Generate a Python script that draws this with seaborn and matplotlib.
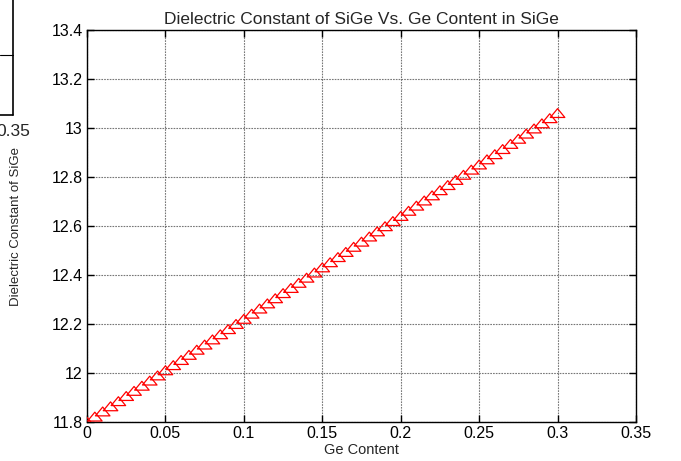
import matplotlib
matplotlib.use("Agg")
import matplotlib.pyplot as plt
from matplotlib.path import Path
import seaborn as sns
import pandas as pd

ge_content = [0.000, 0.005, 0.010, 0.015, 0.020, 0.025, 0.030, 0.035, 0.040, 0.045,
              0.050, 0.055, 0.060, 0.065, 0.070, 0.075, 0.080, 0.085, 0.090, 0.095,
              0.100, 0.105, 0.110, 0.115, 0.120, 0.125, 0.130, 0.135, 0.140, 0.145,
              0.150, 0.155, 0.160, 0.165, 0.170, 0.175, 0.180, 0.185, 0.190, 0.195,
              0.200, 0.205, 0.210, 0.215, 0.220, 0.225, 0.230, 0.235, 0.240, 0.245,
              0.250, 0.255, 0.260, 0.265, 0.270, 0.275, 0.280, 0.285, 0.290, 0.295,
              0.300]
dielectric = [11.800, 11.821, 11.842, 11.863, 11.884, 11.905, 11.926, 11.947, 11.968, 11.989,
              12.010, 12.031, 12.052, 12.073, 12.094, 12.115, 12.136, 12.157, 12.178, 12.199,
              12.220, 12.241, 12.262, 12.283, 12.304, 12.325, 12.346, 12.367, 12.388, 12.409,
              12.430, 12.451, 12.472, 12.493, 12.514, 12.535, 12.556, 12.577, 12.598, 12.619,
              12.640, 12.661, 12.682, 12.703, 12.724, 12.745, 12.766, 12.787, 12.808, 12.829,
              12.850, 12.871, 12.892, 12.913, 12.934, 12.955, 12.976, 12.997, 13.018, 13.039,
              13.060]
x_ticks = [0, 0.05, 0.1, 0.15, 0.2, 0.25, 0.3, 0.35]
x_ticklabels = ["0", "0.05", "0.1", "0.15", "0.2", "0.25", "0.3", "0.35"]
y_ticks = [11.8, 12, 12.2, 12.4, 12.6, 12.8, 13, 13.2, 13.4]
y_ticklabels = ["11.8", "12", "12.2", "12.4", "12.6", "12.8", "13", "13.2", "13.4"]

sns.set_style("white")
plt.rcParams['font.family'] = ['Liberation Sans', 'DejaVu Sans']

df = pd.DataFrame({"x": ge_content, "y": dielectric})

fig = plt.figure(figsize=(6.81, 4.61), dpi=100)
ax = fig.add_axes([87/681, 1 - 422/461, (636 - 87)/681, (422 - 30)/461])

tri = Path([(-0.7, -0.4), (0.7, -0.4), (0.0, 0.45), (-0.7, -0.4)],
           [Path.MOVETO, Path.LINETO, Path.LINETO, Path.CLOSEPOLY])
sns.scatterplot(data=df, x="x", y="y", ax=ax, marker=tri, s=110,
                facecolors="none", edgecolor="red", linewidth=0.9, zorder=3)

ax.set_xlim(0, 0.35)
ax.set_ylim(11.8, 13.4)
ax.set_xticks(x_ticks)
ax.set_xticklabels(x_ticklabels)
ax.set_yticks(y_ticks)
ax.set_yticklabels(y_ticklabels)
ax.tick_params(direction="in", length=5, width=1, labelsize=11.5, colors="black",
               top=True, right=True, bottom=True, left=True, pad=3)
ax.grid(True, color="#555555", linestyle=(0, (1.5, 1)), linewidth=0.8, alpha=0.8)
for sp in ax.spines.values():
    sp.set_visible(True)
    sp.set_color("black")
    sp.set_linewidth(1.0)

ax.set_title("Dielectric Constant of SiGe Vs. Ge Content in SiGe", fontsize=12.5, pad=4)
ax.set_xlabel("Ge Content", fontsize=10.5, labelpad=1)
ax.set_ylabel("Dielectric Constant of SiGe", fontsize=9.5)
ax.yaxis.set_label_coords(-0.118, 0.5)

# fragment of neighbouring figure at the top-left
fig.add_artist(plt.Line2D([13/681, 13/681], [1, 1 - 115/461], color="black", lw=1.2,
                          transform=fig.transFigure))
fig.add_artist(plt.Line2D([0, 13/681], [1 - 55/461, 1 - 55/461], color="black", lw=0.8,
                          transform=fig.transFigure))
fig.add_artist(plt.Line2D([0, 13/681], [1 - 115/461, 1 - 115/461], color="black", lw=1.2,
                          transform=fig.transFigure))
fig.text(-4/681, 1 - 132/461, "0.35", fontsize=12.5, va="center", ha="left")

fig.savefig("out.png", dpi=100)
